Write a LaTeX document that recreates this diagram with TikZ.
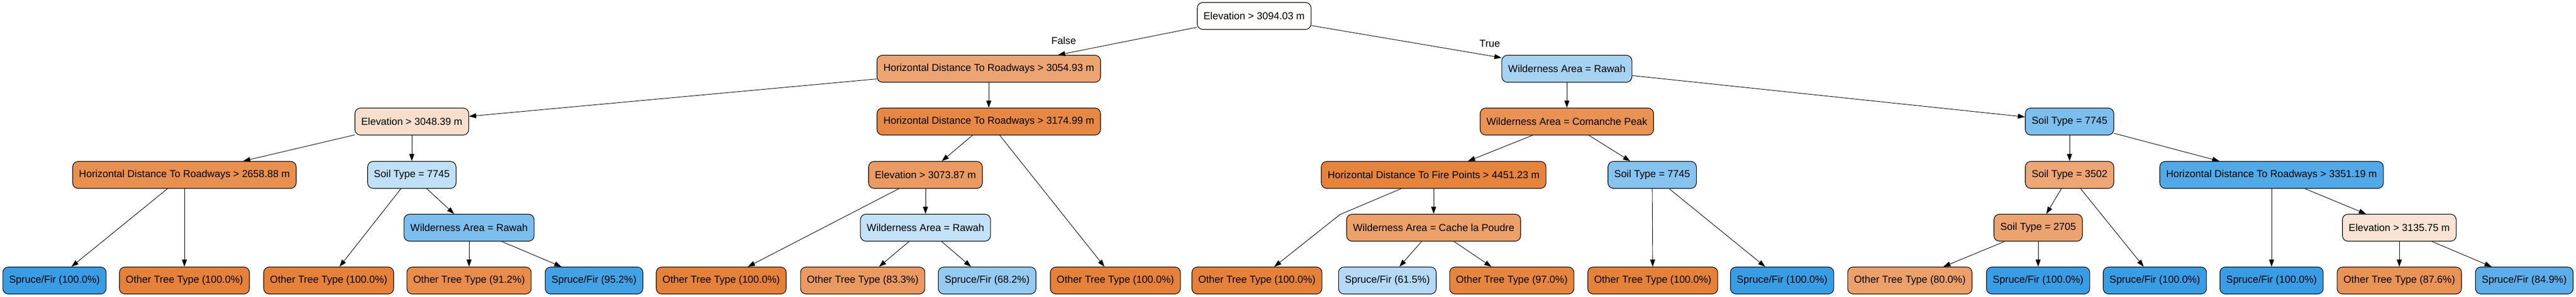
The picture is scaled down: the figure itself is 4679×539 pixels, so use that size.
\documentclass[tikz,border=0pt]{standalone}
\usepackage{fontspec}
\setmainfont{Liberation Sans}
\usepackage{xcolor}
\usepackage{tikz}
\usetikzlibrary{arrows.meta}

\definecolor{other}{HTML}{E58139}
\definecolor{spruce}{HTML}{399DE5}

\tikzset{
    split/.style={draw, line width=1.1pt, rounded corners=10pt, minimum height=49pt, inner xsep=11.5pt, font=\fontsize{18.4}{20}\selectfont},
    branch/.style={-{Triangle[length=13pt,width=9pt]}, line width=0.9pt},
    answer/.style={font=\fontsize{18.4}{20}\selectfont}
}

\begin{document}
\begin{tikzpicture}[x=1pt, y=-1pt]
    \useasboundingbox (0,0) rectangle (4679,539);
    % Root and first split
    \node[split, fill={rgb,255:red,255;green,253;blue,252}] (root) at (2278,29) {Elevation > 3094.03 m};
    \node[split, fill={rgb,255:red,236;green,165;blue,114}] (hdrA) at (1796,125) {Horizontal Distance To Roadways > 3054.93 m};
    \node[split, fill={rgb,255:red,167;green,211;blue,243}] (rawahA) at (2846,125) {Wilderness Area = Rawah};
    \node[answer] (false) at (1932,74) {False};
    \node[answer] (true) at (2706,79) {True};
    % Level 2
    \node[split, fill={rgb,255:red,248;green,223;blue,205}] (elevA) at (748,221) {Elevation > 3048.39 m};
    \node[split, fill={rgb,255:red,230;green,136;blue,68}] (hdrB) at (1796,221) {Horizontal Distance To Roadways > 3174.99 m};
    \node[split, fill={rgb,255:red,233;green,146;blue,84}] (comanche) at (2846,221) {Wilderness Area = Comanche Peak};
    \node[split, fill={rgb,255:red,124;green,190;blue,238}] (soilA) at (3759,221) {Soil Type = 7745};
    % Level 3
    \node[split, fill={rgb,255:red,232;green,144;blue,80}] (hdrC) at (335,318) {Horizontal Distance To Roadways > 2658.88 m};
    \node[split, fill={rgb,255:red,192;green,224;blue,247}] (soilB) at (748,318) {Soil Type = 7745};
    \node[split, fill={rgb,255:red,235;green,155;blue,98}] (elevB) at (1681,318) {Elevation > 3073.87 m};
    \node[split, fill={rgb,255:red,230;green,132;blue,62}] (fire) at (2604,318) {Horizontal Distance To Fire Points > 4451.23 m};
    \node[split, fill={rgb,255:red,135;green,195;blue,239}] (soilC) at (3001,318) {Soil Type = 7745};
    \node[split, fill={rgb,255:red,237;green,166;blue,116}] (soilD) at (3759,318) {Soil Type = 3502};
    \node[split, fill={rgb,255:red,82;green,169;blue,232}] (hdrD) at (4126,318) {Horizontal Distance To Roadways > 3351.19 m};
    % Level 4
    \node[split, fill={rgb,255:red,124;green,190;blue,238}] (rawahB) at (852,414) {Wilderness Area = Rawah};
    \node[split, fill={rgb,255:red,195;green,225;blue,247}] (rawahC) at (1681,414) {Wilderness Area = Rawah};
    \node[split, fill={rgb,255:red,236;green,160;blue,106}] (cache) at (2604,414) {Wilderness Area = Cache la Poudre};
    \node[split, fill={rgb,255:red,236;green,163;blue,111}] (soilE) at (3702,414) {Soil Type = 2705};
    \node[split, fill={rgb,255:red,248;green,227;blue,212}] (elevC) at (4358,414) {Elevation > 3135.75 m};
    % Leaves
    \node[split, fill=spruce] (leafA) at (99,510) {Spruce/Fir (100.0\%)};
    \node[split, fill=other] (leafB) at (335,510) {Other Tree Type (100.0\%)};
    \node[split, fill=other] (leafC) at (597,510) {Other Tree Type (100.0\%)};
    \node[split, fill={rgb,255:red,232;green,141;blue,76}] (leafD) at (852,510) {Other Tree Type (91.2\%)};
    \node[split, fill={rgb,255:red,67;green,162;blue,230}] (leafE) at (1079,510) {Spruce/Fir (95.2\%)};
    \node[split, fill=other] (leafF) at (1310,510) {Other Tree Type (100.0\%)};
    \node[split, fill={rgb,255:red,234;green,154;blue,97}] (leafG) at (1567,510) {Other Tree Type (83.3\%)};
    \node[split, fill={rgb,255:red,149;green,203;blue,241}] (leafH) at (1793,510) {Spruce/Fir (68.2\%)};
    \node[split, fill=other] (leafI) at (2026,510) {Other Tree Type (100.0\%)};
    \node[split, fill=other] (leafJ) at (2283,510) {Other Tree Type (100.0\%)};
    \node[split, fill={rgb,255:red,181;green,218;blue,245}] (leafK) at (2520,510) {Spruce/Fir (61.5\%)};
    \node[split, fill={rgb,255:red,230;green,133;blue,63}] (leafL) at (2746,510) {Other Tree Type (97.0\%)};
    \node[split, fill=other] (leafM) at (3002,510) {Other Tree Type (100.0\%)};
    \node[split, fill=spruce] (leafN) at (3237,510) {Spruce/Fir (100.0\%)};
    \node[split, fill={rgb,255:red,236;green,160;blue,106}] (leafO) at (3469,510) {Other Tree Type (80.0\%)};
    \node[split, fill=spruce] (leafP) at (3702,510) {Spruce/Fir (100.0\%)};
    \node[split, fill=spruce] (leafQ) at (3914,510) {Spruce/Fir (100.0\%)};
    \node[split, fill=spruce] (leafR) at (4126,510) {Spruce/Fir (100.0\%)};
    \node[split, fill={rgb,255:red,233;green,147;blue,85}] (leafS) at (4358,510) {Other Tree Type (87.6\%)};
    \node[split, fill={rgb,255:red,92;green,174;blue,234}] (leafT) at (4585,510) {Spruce/Fir (84.9\%)};
    \coordinate (bend) at (2434,390);
    % Branches
    \draw[branch] (root) -- (hdrA);
    \draw[branch] (root) -- (rawahA);
    \draw[branch] (hdrA) -- (elevA);
    \draw[branch] (hdrA) -- (hdrB);
    \draw[branch] (rawahA) -- (comanche);
    \draw[branch] (rawahA) -- (soilA);
    \draw[branch] (elevA) -- (hdrC);
    \draw[branch] (elevA) -- (soilB);
    \draw[branch] (hdrB) -- (elevB);
    \draw[branch] (hdrB) -- (leafI);
    \draw[branch] (comanche) -- (fire);
    \draw[branch] (comanche) -- (soilC);
    \draw[branch] (soilA) -- (soilD);
    \draw[branch] (soilA) -- (hdrD);
    \draw[branch] (hdrC) -- (leafA);
    \draw[branch] (hdrC) -- (leafB);
    \draw[branch] (soilB) -- (leafC);
    \draw[branch] (soilB) -- (rawahB);
    \draw[branch] (elevB) -- (leafF);
    \draw[branch] (elevB) -- (rawahC);
    \draw[branch] (fire) -- (bend) -- (leafJ);
    \draw[branch] (fire) -- (cache);
    \draw[branch] (soilC) -- (leafM);
    \draw[branch] (soilC) -- (leafN);
    \draw[branch] (soilD) -- (soilE);
    \draw[branch] (soilD) -- (leafQ);
    \draw[branch] (hdrD) -- (leafR);
    \draw[branch] (hdrD) -- (elevC);
    \draw[branch] (rawahB) -- (leafD);
    \draw[branch] (rawahB) -- (leafE);
    \draw[branch] (rawahC) -- (leafG);
    \draw[branch] (rawahC) -- (leafH);
    \draw[branch] (cache) -- (leafK);
    \draw[branch] (cache) -- (leafL);
    \draw[branch] (soilE) -- (leafO);
    \draw[branch] (soilE) -- (leafP);
    \draw[branch] (elevC) -- (leafS);
    \draw[branch] (elevC) -- (leafT);
\end{tikzpicture}
\end{document}
